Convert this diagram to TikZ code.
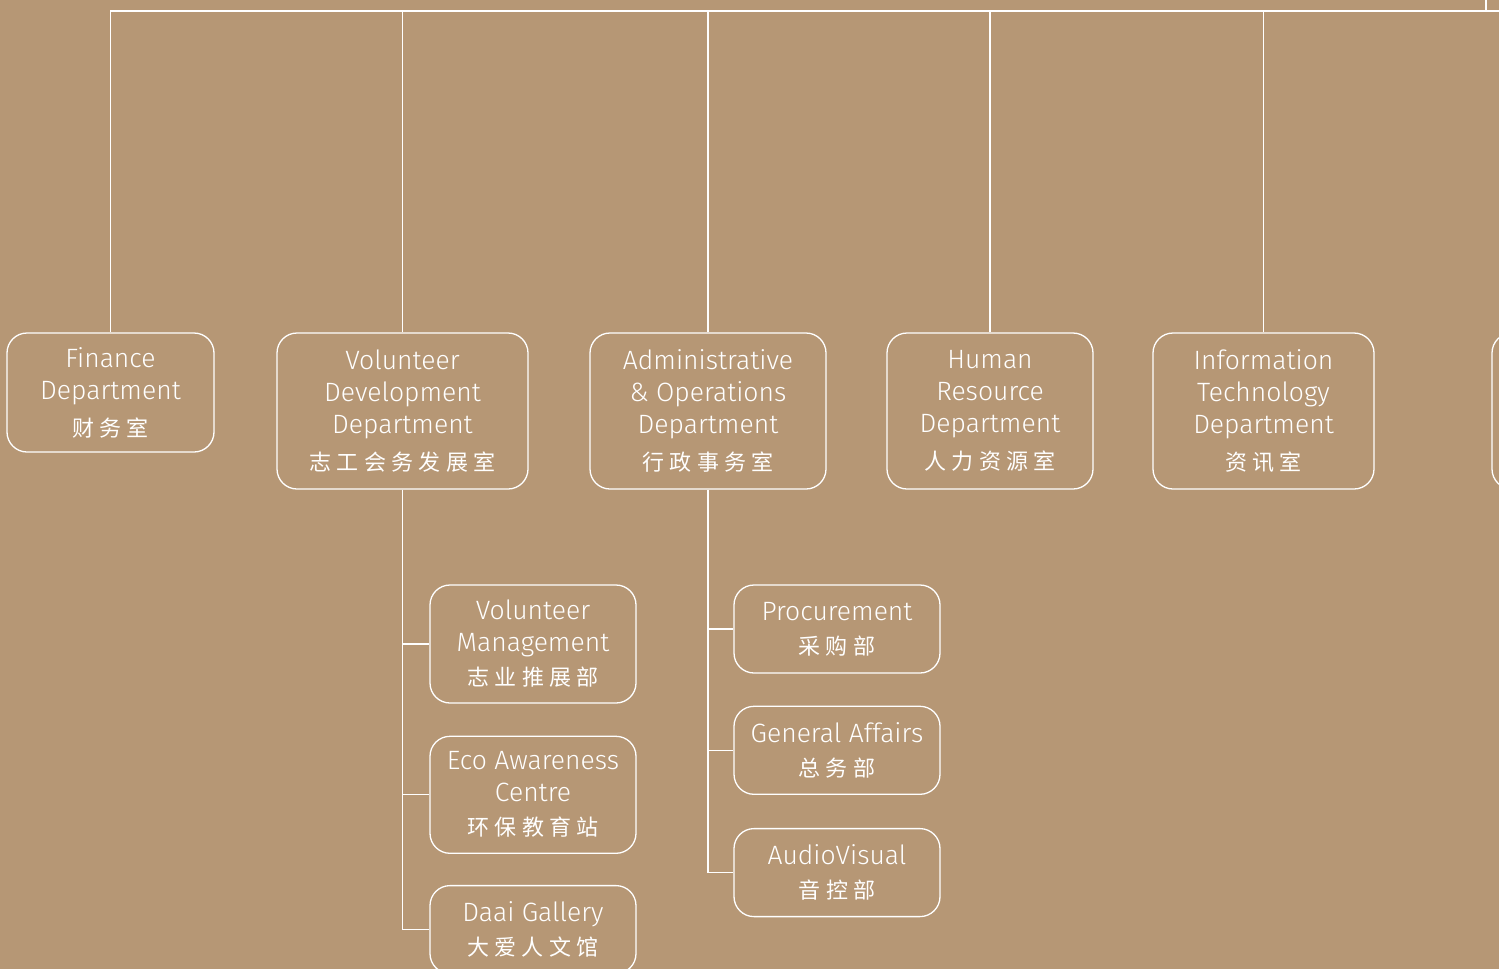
\documentclass[tikz,border=0pt]{standalone}
\usepackage{fontspec}
\setmainfont{Fira Sans Light}
\newfontfamily\cjk{Noto Sans CJK SC}[LetterSpace=24]
\usetikzlibrary{positioning}
\definecolor{tanbg}{RGB}{182,151,117}
\newcommand{\zh}[1]{{\cjk\fontsize{22}{26}\selectfont #1}}

\begin{document}
\begin{tikzpicture}[x=1pt, y=-1pt, dept/.style={draw=white, line width=1.3pt, rounded corners=20pt, text=white, align=center, inner sep=0pt, font=\fontsize{26.5}{32}\selectfont}, link/.style={draw=white, line width=1.3pt}]

          \fill[tanbg] (0,0) rectangle (1499,969);
          \useasboundingbox (0,0) rectangle (1499,969);

          % top row
          \node[dept, minimum width=207pt, minimum height=119pt] at (110.5,392.5) (fin) {Finance\\Department\\[5pt]\zh{财务室}};
          \node[dept, minimum width=251pt, minimum height=156pt] at (402.5,411) (vdd) {Volunteer\\Development\\Department\\[5pt]\zh{志工会务发展室}};
          \node[dept, minimum width=236pt, minimum height=156pt] at (708,411) (adm) {Administrative\\\& Operations\\Department\\[5pt]\zh{行政事务室}};
          \node[dept, minimum width=206pt, minimum height=156pt] at (990,411) (hr) {Human\\Resource\\Department\\[5pt]\zh{人力资源室}};
          \node[dept, minimum width=221pt, minimum height=156pt] at (1263.5,411) (it) {Information\\Technology\\Department\\[5pt]\zh{资讯室}};
          \node[dept, minimum width=210pt, minimum height=156pt] at (1597,411) (next) {};

          \coordinate (busend) at (1510,11);
          \coordinate (up) at (1486,0);
          \draw[link] (fin.north) |- (busend);
          \draw[link] (up) -- (up |- busend);
          \foreach \d in {vdd, adm, hr, it}
            \draw[link] (\d.north) -- (\d.north |- busend);

          % volunteer development units
          \node[dept, minimum width=206pt, minimum height=118pt] at (533,644) (vm) {Volunteer\\Management\\[2pt]\zh{志业推展部}};
          \node[dept, minimum width=206pt, minimum height=117pt, below=32pt of vm] (eco) {Eco Awareness\\Centre\\[2pt]\zh{环保教育站}};
          \node[dept, minimum width=206pt, minimum height=88pt, below=31pt of eco] (daai) {Daai Gallery\\[2pt]\zh{大爱人文馆}};

          \draw[link] (vdd.south) |- (daai.west);
          \draw[link] (vdd.south |- vm.west) -- (vm.west);
          \draw[link] (vdd.south |- eco.west) -- (eco.west);

          % administrative units
          \node[dept, minimum width=206pt, minimum height=88pt] at (837,629) (proc) {Procurement\\[2pt]\zh{采购部}};
          \node[dept, minimum width=206pt, minimum height=88pt, below=32pt of proc] (ga) {General Affairs\\[2pt]\zh{总务部}};
          \node[dept, minimum width=206pt, minimum height=88pt, below=33pt of ga] (av) {AudioVisual\\[2pt]\zh{音控部}};

          \draw[link] (adm.south) |- (av.west);
          \draw[link] (adm.south |- proc.west) -- (proc.west);
          \draw[link] (adm.south |- ga.west) -- (ga.west);

      \end{tikzpicture}
\end{document}
